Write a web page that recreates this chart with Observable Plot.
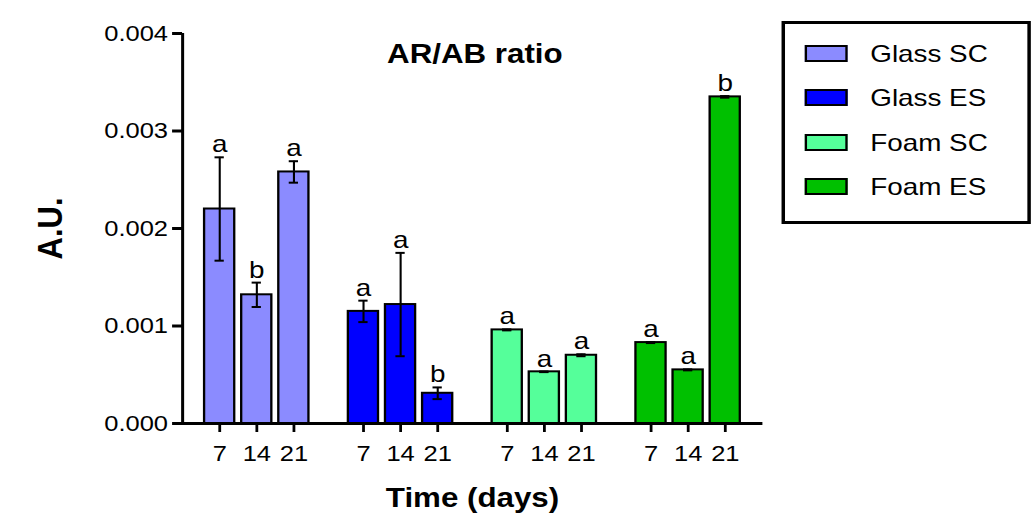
<!DOCTYPE html>
<html>
<head>
<meta charset="utf-8">
<script src="https://cdn.jsdelivr.net/npm/d3@7"></script>
<script src="https://cdn.jsdelivr.net/npm/@observablehq/plot@0.6"></script>
<style>
  html, body { margin: 0; padding: 0; background: #fff; overflow: hidden; }
  #wrap { position: relative; width: 890px; height: 515px; transform: scaleX(1.15955); transform-origin: 0 0;
          font-family: 'Liberation Sans', Arial, sans-serif; }
  #legend { position: absolute; left: 673.5px; top: 21px; width: 215px; height: 203px; box-sizing: border-box;
            border: 3px solid #000; background: #fff; }
  .sw { position: absolute; left: 17px; width: 37px; height: 17px; box-sizing: border-box; border: 2px solid #000; }
  .lt { position: absolute; left: 74px; font-size: 24px; line-height: 17px; height: 17px; white-space: nowrap; color: #000; }
</style>
</head>
<body>
<div id="wrap"><div id="legend"></div></div>
<script>
// ---- data ----
const groups = ["Glass SC", "Glass ES", "Foam SC", "Foam ES"];
const days = ["7", "14", "21"];
const colors = ["#8b8bff", "#0000ff", "#55ff9a", "#00c000"];

const glassSC = [0.00220, 0.00132, 0.00258];
const glassES = [0.00115, 0.00122, 0.00031];
const foamSC  = [0.00096, 0.00053, 0.00070];
const foamES  = [0.00083, 0.00055, 0.00335];

const glassSCErr = [0.00053, 0.000125, 0.00011];
const glassESErr = [0.00011, 0.00053, 0.00006];
const foamSCErr  = [0.000005, 0.000003, 0.00001];
const foamESErr  = [0.000005, 0.000005, 0.000008];

const glassSCLetters = ["a", "b", "a"];
const glassESLetters = ["a", "a", "b"];
const foamSCLetters  = ["a", "a", "a"];
const foamESLetters  = ["a", "a", "b"];

const yTicks = [0, 0.001, 0.002, 0.003, 0.004];
const titleText = "AR/AB ratio";
const xLabel = "Time (days)";
const yLabel = "A.U.";

const seriesValues = [glassSC, glassES, foamSC, foamES];
const seriesErrors = [glassSCErr, glassESErr, foamSCErr, foamESErr];
const seriesLetters = [glassSCLetters, glassESLetters, foamSCLetters, foamESLetters];

const rows = [];
groups.forEach((g, gi) => days.forEach((d, di) => rows.push({
  group: g, day: d, value: seriesValues[gi][di], err: seriesErrors[gi][di], letter: seriesLetters[gi][di]
})));

// ---- layout ----
const W = 890, H = 515, ML = 157, MR = 233, MT = 33, MB = 92, CAP = 8;
const first = [{group: groups[0]}];

function build(geo) {
  return Plot.plot({
    width: W, height: H,
    marginLeft: ML, marginRight: MR, marginTop: MT, marginBottom: MB,
    style: {fontFamily: "'Liberation Sans', Arial, sans-serif", color: "#000", background: "transparent", overflow: "visible"},
    fx: {domain: groups, paddingInner: 0.211, paddingOuter: 0.112, axis: null, label: null},
    x: {domain: days, paddingInner: 0.184, paddingOuter: 0.092, label: null},
    y: {domain: [0, 0.004], label: null},
    color: {domain: groups, range: colors},
    marks: [
      Plot.barY(rows, {fx: "group", x: "day", y: "value", fill: "group", stroke: "#000", strokeWidth: 2}),
      Plot.ruleX(rows, {fx: "group", x: "day", y1: d => d.value - d.err, y2: d => d.value + d.err, stroke: "#000", strokeWidth: 1.8}),
      Plot.tickY(rows, {fx: "group", x: "day", y: d => d.value + d.err, stroke: "#000", strokeWidth: 2, insetLeft: geo.capInset, insetRight: geo.capInset}),
      Plot.tickY(rows, {fx: "group", x: "day", y: d => d.value - d.err, stroke: "#000", strokeWidth: 2, insetLeft: geo.capInset, insetRight: geo.capInset}),
      Plot.text(rows, {fx: "group", x: "day", y: d => d.value + d.err, text: "letter", lineAnchor: "bottom", dy: -5, fontSize: 24, fill: "#000"}),
      // x baseline (extends across facet gaps)
      Plot.ruleY([0], {stroke: "#000", strokeWidth: 3, insetLeft: -geo.off - 0.5, insetRight: -geo.off - 0.5}),
      Plot.axisX({tickSize: 9, tickPadding: 13, fontSize: 22, strokeWidth: 2.4, label: null, stroke: "#000", fill: "#000"}),
      // y axis in the leftmost facet, shifted to the plot's left margin
      Plot.ruleX(first, {fx: "group", x: null, y1: () => 0, y2: () => 0.004, stroke: "#000", strokeWidth: 2.6, dx: -(geo.bw / 2 + geo.off)}),
      Plot.axisY({ticks: yTicks, tickFormat: d3.format(".3f"), tickSize: 8.6, tickPadding: 4, fontSize: 22, strokeWidth: 3, dx: -geo.off, label: null, stroke: "#000", fill: "#000"}),
      Plot.text(first, {fx: "group", text: () => yLabel, frameAnchor: "left", rotate: -90, textAnchor: "middle", lineAnchor: "middle", dx: -geo.off - 114, fontSize: 31, fontWeight: "bold", fill: "#000"}),
      Plot.text(first, {fx: "group", text: () => titleText, frameAnchor: "top-left", textAnchor: "middle", lineAnchor: "bottom", dx: geo.mid + 2, dy: 29, fontSize: 27, fontWeight: "bold", fill: "#000"}),
      Plot.text(first, {fx: "group", text: () => xLabel, frameAnchor: "bottom-left", textAnchor: "middle", lineAnchor: "bottom", dx: geo.mid, dy: 83, fontSize: 27, fontWeight: "bold", fill: "#000"})
    ]
  });
}

const p1 = build({off: 0, bw: 0, mid: 0, capInset: 0});
const fxs = p1.scale("fx"), xs = p1.scale("x");
const x0 = fxs.apply(groups[0]);
const geo = {
  off: x0 - ML,
  bw: fxs.bandwidth,
  mid: (fxs.range[0] + fxs.range[1]) / 2 - x0,
  capInset: (xs.bandwidth - CAP) / 2
};
const chart = build(geo);
chart.style.position = "absolute";
chart.style.left = "0";
chart.style.top = "0";
const wrap = document.getElementById("wrap");
wrap.insertBefore(chart, wrap.firstChild);

// ---- legend ----
const legend = d3.select("#legend");
groups.forEach((g, i) => {
  const top = 21 + 44.33 * i;
  legend.append("div").attr("class", "sw").style("top", top + "px").style("background", colors[i]);
  legend.append("div").attr("class", "lt").style("top", top + "px").text(g);
});
</script>
</body>
</html>
